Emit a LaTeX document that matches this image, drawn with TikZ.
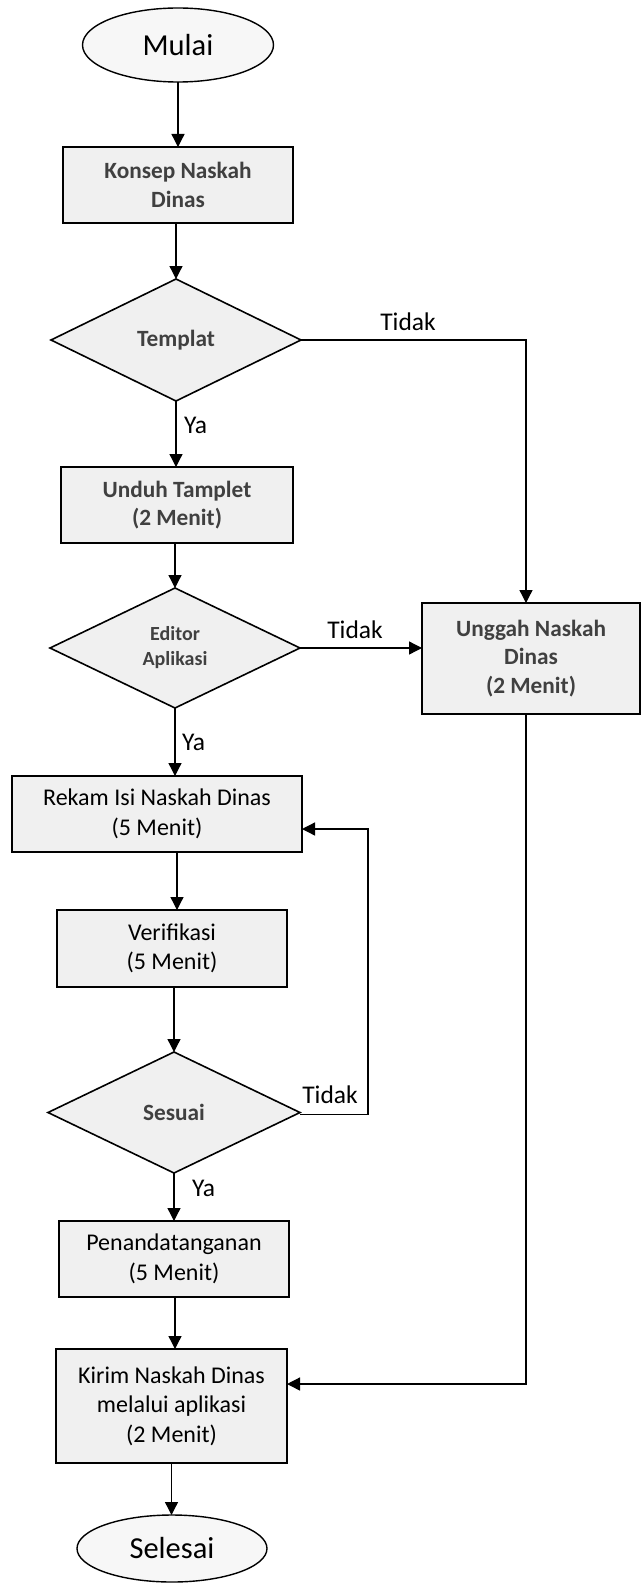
\documentclass[tikz,border=0pt]{standalone}
\usepackage{fontspec}
\setmainfont{Carlito}
\usetikzlibrary{shapes.geometric,arrows.meta}
\begin{document}
\begin{tikzpicture}[x=1pt,y=-1pt,
  every node/.style={inner sep=0pt,outer sep=0pt},
  terminal/.style={ellipse,draw,line width=1.4pt,fill=black!3,
    font=\fontsize{30.5}{36}\selectfont},
  procbox/.style={rectangle,draw,line width=1.6pt,fill=black!6,align=center,
    font=\fontsize{24}{29.5}\selectfont},
  darkbox/.style={procbox,text=black!75,
    font=\fontsize{23.3}{28.5}\selectfont\bfseries},
  decision/.style={diamond,aspect=2,draw,line width=1.6pt,fill=black!6,
    align=center,text=black!75,font=\fontsize{23.3}{28}\selectfont\bfseries},
  flow/.style={line width=1.3pt,-{Triangle[length=13pt,width=13pt]}},
  lbl/.style={anchor=base,font=\fontsize{25.5}{30}\selectfont},
  lblw/.style={anchor=base west,font=\fontsize{25.5}{30}\selectfont}
]
\useasboundingbox (0,0) rectangle (643,1584);

% main column
\node[terminal,minimum width=191pt,minimum height=74pt] (mulai) at (178,45) {Mulai};
\node[darkbox,minimum width=230pt,minimum height=76pt] (konsep) at (178,185)
  {Konsep Naskah\\Dinas};
\node[decision,minimum width=250pt,minimum height=122pt] (templat) at (176,340) {Templat};
\node[darkbox,minimum width=232pt,minimum height=76pt] (unduh) at (177,505)
  {Unduh Tamplet\\(2 Menit)};
\node[decision,minimum width=250pt,minimum height=120pt,
  font=\fontsize{20}{25}\selectfont\bfseries] (editor) at (175,648)
  {Editor\\Aplikasi};
\node[procbox,minimum width=290pt,minimum height=76pt] (rekam) at (157,814)
  {Rekam Isi Naskah Dinas\\(5 Menit)};
\node[procbox,minimum width=230pt,minimum height=77pt] (verif) at (172,948.5)
  {Verifikasi\\(5 Menit)};
\node[decision,minimum width=252pt,minimum height=121pt] (sesuai) at (174,1112.5) {Sesuai};
\node[procbox,minimum width=230pt,minimum height=76pt] (tanda) at (174,1259)
  {Penandatanganan\\(5 Menit)};
\node[procbox,minimum width=231pt,minimum height=114pt] (kirim) at (171.5,1406)
  {Kirim Naskah Dinas\\melalui aplikasi\\(2 Menit)};
\node[terminal,minimum width=190pt,minimum height=67pt] (selesai) at (172,1548.5) {Selesai};

% side branch
\node[darkbox,minimum width=218pt,minimum height=111pt] (unggah) at (531,658.5)
  {Unggah Naskah\\Dinas\\(2 Menit)};

% connectors along the main column
\draw[flow] (mulai.south) -- (mulai.south |- konsep.north);
\draw[flow] (templat.north |- konsep.south) -- (templat.north);
\draw[flow] (templat.south) -- (templat.south |- unduh.north);
\draw[flow] (editor.north |- unduh.south) -- (editor.north);
\draw[flow] (editor.south) -- (editor.south |- rekam.north);
\draw[flow] ([xshift=20pt]rekam.south) -- ([xshift=20pt]rekam.south |- verif.north);
\draw[flow] (sesuai.north |- verif.south) -- (sesuai.north);
\draw[flow] (sesuai.south) -- (sesuai.south |- tanda.north);
\draw[flow] ([xshift=1pt]tanda.south) -- ([xshift=1pt]tanda.south |- kirim.north);
\draw[flow] (kirim.south) -- (kirim.south |- selesai.north);

% branches
\draw[flow] (templat.east) -| ([xshift=-5pt]unggah.north);
\draw[flow] (editor.east) -- (editor.east -| unggah.west);
\draw[flow] ([xshift=-5pt]unggah.south) |- ([yshift=22pt]kirim.east);
\draw[flow] ([yshift=-2pt]sesuai.east) -- ++(68,0) |- ([yshift=-15pt]rekam.east);

% branch labels
\node[lbl] (tidak1) at (408,330) {Tidak};
\node[lblw] (ya1) at (184,433) {Ya};
\node[lbl] (tidak2) at (355,638) {Tidak};
\node[lblw] (ya2) at (182,750) {Ya};
\node[lbl] (tidak3) at (330,1103) {Tidak};
\node[lblw] (ya3) at (192,1196) {Ya};
\end{tikzpicture}
\end{document}
